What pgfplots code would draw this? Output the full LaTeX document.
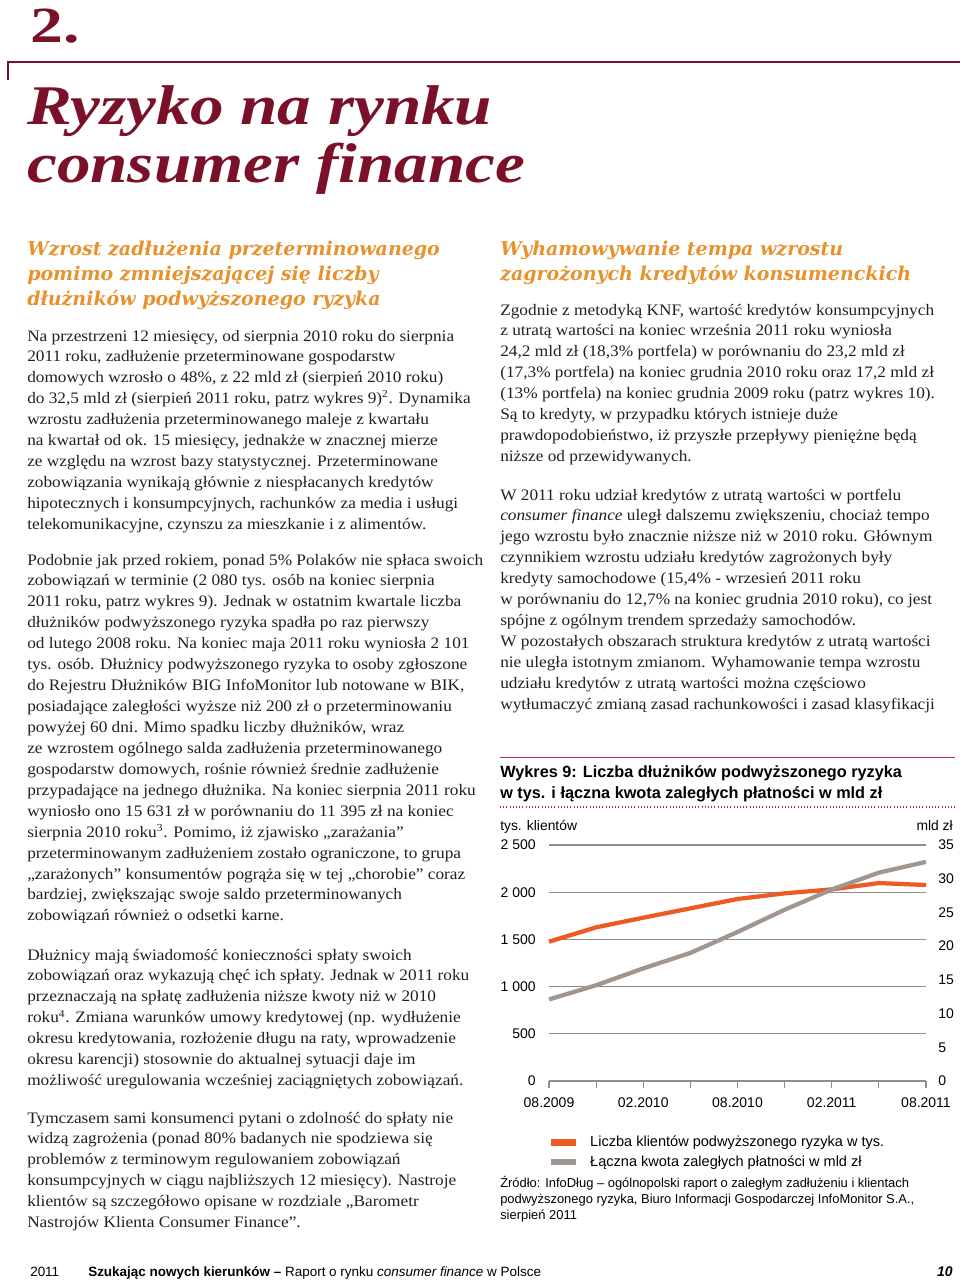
\documentclass[border=0pt]{standalone}
\usepackage{fontspec}
\setmainfont[FakeStretch=1.08]{Liberation Serif}
\setsansfont{Liberation Sans}
\newfontfamily\headfont{DejaVu Serif}
\usepackage{pgfplots}
\pgfplotsset{compat=1.18}

\definecolor{titlered}{HTML}{7B1029}
\definecolor{headorange}{HTML}{E8922E}
\definecolor{chartorange}{HTML}{EE5A24}
\definecolor{chartgray}{HTML}{A0968F}
\definecolor{gridgray}{HTML}{8E8E8E}
\definecolor{rulered}{HTML}{B32D45}
\definecolor{bodytext}{HTML}{231F20}

% body paragraph: lines broken by hand as in the page
\newcommand\body[1]{\begin{minipage}[t]{400pt}\fontsize{12}{15.7}\selectfont\raggedright #1\end{minipage}}
\newcommand\head[1]{\begin{minipage}[t]{400pt}\headfont\bfseries\itshape\fontsize{14.25}{18.75}\selectfont\raggedright #1\end{minipage}}

\begin{document}
\begin{tikzpicture}
\begin{scope}[x=0.75pt,y=-0.75pt]
\path[use as bounding box] (0,0) rectangle (960,1280);

% chapter header
\node[anchor=base west,inner sep=0,text=titlered] at (30,43) {\scalebox{1.2}[1]{\fontsize{38}{38}\selectfont\bfseries 2.}};
\draw[titlered,line width=0.9pt] (8,80) -- (8,62) -- (960,62);
\node[anchor=base west,inner sep=0,text=titlered] at (27,125) {\scalebox{1.11}[1]{\fontsize{42}{42}\selectfont\bfseries\itshape Ryzyko na rynku}};
\node[anchor=base west,inner sep=0,text=titlered] at (27,183) {\scalebox{1.11}[1]{\fontsize{42}{42}\selectfont\bfseries\itshape consumer finance}};

% left column
\node[anchor=base west,inner sep=0,text=headorange] at (27,255) {\head{Wzrost zadłużenia przeterminowanego\\pomimo zmniejszającej się liczby\\dłużników podwyższonego ryzyka}};
\node[anchor=base west,inner sep=0,text=bodytext] at (27,341) {\body{Na przestrzeni 12 miesięcy, od sierpnia 2010 roku do sierpnia\\
2011 roku, zadłużenie przeterminowane gospodarstw\\
domowych wzrosło o 48\%, z 22 mld zł (sierpień 2010 roku)\\
do 32,5 mld zł (sierpień 2011 roku, patrz wykres 9)\textsuperscript{2}. Dynamika\\
wzrostu zadłużenia przeterminowanego maleje z kwartału\\
na kwartał od ok. 15 miesięcy, jednakże w znacznej mierze\\
ze względu na wzrost bazy statystycznej. Przeterminowane\\
zobowiązania wynikają głównie z niespłacanych kredytów\\
hipotecznych i konsumpcyjnych, rachunków za media i usługi\\
telekomunikacyjne, czynszu za mieszkanie i z alimentów.}};
\node[anchor=base west,inner sep=0,text=bodytext] at (27,565) {\body{Podobnie jak przed rokiem, ponad 5\% Polaków nie spłaca swoich\\
zobowiązań w terminie (2 080 tys. osób na koniec sierpnia\\
2011 roku, patrz wykres 9). Jednak w ostatnim kwartale liczba\\
dłużników podwyższonego ryzyka spadła po raz pierwszy\\
od lutego 2008 roku. Na koniec maja 2011 roku wyniosła 2 101\\
tys. osób. Dłużnicy podwyższonego ryzyka to osoby zgłoszone\\
do Rejestru Dłużników BIG InfoMonitor lub notowane w BIK,\\
posiadające zaległości wyższe niż 200 zł o przeterminowaniu\\
powyżej 60 dni. Mimo spadku liczby dłużników, wraz\\
ze wzrostem ogólnego salda zadłużenia przeterminowanego\\
gospodarstw domowych, rośnie również średnie zadłużenie\\
przypadające na jednego dłużnika. Na koniec sierpnia 2011 roku\\
wyniosło ono 15 631 zł w porównaniu do 11 395 zł na koniec\\
sierpnia 2010 roku\textsuperscript{3}. Pomimo, iż zjawisko „zarażania”\\
przeterminowanym zadłużeniem zostało ograniczone, to grupa\\
„zarażonych” konsumentów pogrąża się w tej „chorobie” coraz\\
bardziej, zwiększając swoje saldo przeterminowanych\\
zobowiązań również o odsetki karne.}};
\node[anchor=base west,inner sep=0,text=bodytext] at (27,960) {\body{Dłużnicy mają świadomość konieczności spłaty swoich\\
zobowiązań oraz wykazują chęć ich spłaty. Jednak w 2011 roku\\
przeznaczają na spłatę zadłużenia niższe kwoty niż w 2010\\
roku\textsuperscript{4}. Zmiana warunków umowy kredytowej (np. wydłużenie\\
okresu kredytowania, rozłożenie długu na raty, wprowadzenie\\
okresu karencji) stosownie do aktualnej sytuacji daje im\\
możliwość uregulowania wcześniej zaciągniętych zobowiązań.}};
\node[anchor=base west,inner sep=0,text=bodytext] at (27,1123) {\body{Tymczasem sami konsumenci pytani o zdolność do spłaty nie\\
widzą zagrożenia (ponad 80\% badanych nie spodziewa się\\
problemów z terminowym regulowaniem zobowiązań\\
konsumpcyjnych w ciągu najbliższych 12 miesięcy). Nastroje\\
klientów są szczegółowo opisane w rozdziale „Barometr\\
Nastrojów Klienta Consumer Finance”.}};

% right column
\node[anchor=base west,inner sep=0,text=headorange] at (500,255) {\head{Wyhamowywanie tempa wzrostu\\zagrożonych kredytów konsumenckich}};
\node[anchor=base west,inner sep=0,text=bodytext] at (500,315) {\body{Zgodnie z metodyką KNF, wartość kredytów konsumpcyjnych\\
z utratą wartości na koniec września 2011 roku wyniosła\\
24,2 mld zł (18,3\% portfela) w porównaniu do 23,2 mld zł\\
(17,3\% portfela) na koniec grudnia 2010 roku oraz 17,2 mld zł\\
(13\% portfela) na koniec grudnia 2009 roku (patrz wykres 10).\\
Są to kredyty, w przypadku których istnieje duże\\
prawdopodobieństwo, iż przyszłe przepływy pieniężne będą\\
niższe od przewidywanych.}};
\node[anchor=base west,inner sep=0,text=bodytext] at (500,500) {\body{W 2011 roku udział kredytów z utratą wartości w portfelu\\
\textit{consumer finance} uległ dalszemu zwiększeniu, chociaż tempo\\
jego wzrostu było znacznie niższe niż w 2010 roku. Głównym\\
czynnikiem wzrostu udziału kredytów zagrożonych były\\
kredyty samochodowe (15,4\% - wrzesień 2011 roku\\
w porównaniu do 12,7\% na koniec grudnia 2010 roku), co jest\\
spójne z ogólnym trendem sprzedaży samochodów.\\
W pozostałych obszarach struktura kredytów z utratą wartości\\
nie uległa istotnym zmianom. Wyhamowanie tempa wzrostu\\
udziału kredytów z utratą wartości można częściowo\\
wytłumaczyć zmianą zasad rachunkowości i zasad klasyfikacji}};

% chart frame texts
\draw[rulered,line width=0.75pt] (500,757) -- (955,757);
\node[anchor=base west,inner sep=0] at (500,777) {\begin{minipage}[t]{360pt}\sffamily\bfseries\fontsize{12.2}{15.75}\selectfont Wykres 9: Liczba dłużników podwyższonego ryzyka\\w tys. i łączna kwota zaległych płatności w mld zł\end{minipage}};
\draw[rulered,line width=0.9pt,dash pattern=on 0.8pt off 1.6pt] (500,807) -- (955,807);
\node[anchor=base west,inner sep=0,font=\sffamily\fontsize{10.4}{12}\selectfont] at (500,830) {tys. klientów};
\node[anchor=base east,inner sep=0,font=\sffamily\fontsize{10.4}{12}\selectfont] at (953,830) {mld zł};
\node[anchor=base west,inner sep=0] at (500,1187) {\begin{minipage}[t]{360pt}\sffamily\fontsize{9.7}{12}\selectfont Źródło: InfoDług – ogólnopolski raport o zaległym zadłużeniu i klientach\\podwyższonego ryzyka, Biuro Informacji Gospodarczej InfoMonitor S.A.,\\sierpień 2011\end{minipage}};

% footer
\node[anchor=base west,inner sep=0,font=\sffamily\fontsize{10.1}{12}\selectfont] at (30,1276) {2011};
\node[anchor=base west,inner sep=0,font=\sffamily\fontsize{10.1}{12}\selectfont] at (88,1276) {\textbf{Szukając nowych kierunków –} Raport o rynku \textit{consumer finance} w Polsce};
\node[anchor=base east,inner sep=0,font=\sffamily\fontsize{10.5}{12}\selectfont] at (953,1276) {\textbf{\textit{10}}};
\end{scope}

% left axis: number of debtors
\begin{axis}[
  at={(411.75pt,-810.75pt)}, anchor=south west,
  scale only axis, width=282.75pt, height=177pt,
  xmin=0, xmax=8, ymin=0, ymax=2500,
  clip=false,
  axis x line*=bottom, axis y line*=left,
  y axis line style={draw=none},
  x axis line style={draw=gridgray,line width=0.9pt,-},
  xtick={0,...,8},
  xticklabels={08.2009,,02.2010,,08.2010,,02.2011,,08.2011},
  ytick={0,500,...,2500},
  yticklabels={0,500,1 000,1 500,2 000,2 500},
  ymajorgrids, grid style={draw=gridgray,line width=0.9pt},
  tick align=outside, major tick length=5.25pt,
  x tick style={draw=gridgray,line width=0.9pt},
  y tick style={draw=none},
  tick label style={font=\sffamily\fontsize{10.5}{12}\selectfont},
  yticklabel style={inner sep=0pt,xshift=-4.5pt},
  xticklabel style={yshift=-4pt},
]
\addplot[chartorange,line width=3.2pt,line join=round] coordinates {
  (0,1476) (1,1628) (2,1730) (3,1829) (4,1928) (5,1988) (6,2030) (7,2097) (8,2076)
};
\end{axis}

% right axis: overdue amount
\begin{axis}[
  at={(411.75pt,-810.75pt)}, anchor=south west,
  scale only axis, width=282.75pt, height=177pt,
  xmin=0, xmax=8, ymin=0, ymax=35,
  clip=false,
  axis x line=none, axis y line*=right,
  y axis line style={draw=none},
  ytick={0,5,...,35},
  yticklabels={0,5,10,15,20,25,30,35},
  y tick style={draw=none}, major tick length=0pt,
  tick label style={font=\sffamily\fontsize{10.5}{12}\selectfont},
  yticklabel style={inner sep=0pt,anchor=west,xshift=9pt},
  legend style={at={(-0.016,-0.21)},anchor=north west,draw=none,fill=none,
    font=\sffamily\fontsize{10.9}{12}\selectfont,row sep=1.1pt,column sep=6.5pt},
  legend cell align=left,
  legend image code/.code={\draw[#1,line width=5pt] (0pt,0pt) -- (18.75pt,0pt);},
]
\addlegendimage{chartorange}
\addlegendentry{Liczba klientów podwyższonego ryzyka w tys.}
\addplot[chartgray,line width=3.2pt,line join=round] coordinates {
  (0,12.1) (1,14.2) (2,16.7) (3,19.0) (4,22.1) (5,25.4) (6,28.4) (7,30.9) (8,32.5)
};
\addlegendentry{Łączna kwota zaległych płatności w mld zł}
\end{axis}
\end{tikzpicture}
\end{document}
